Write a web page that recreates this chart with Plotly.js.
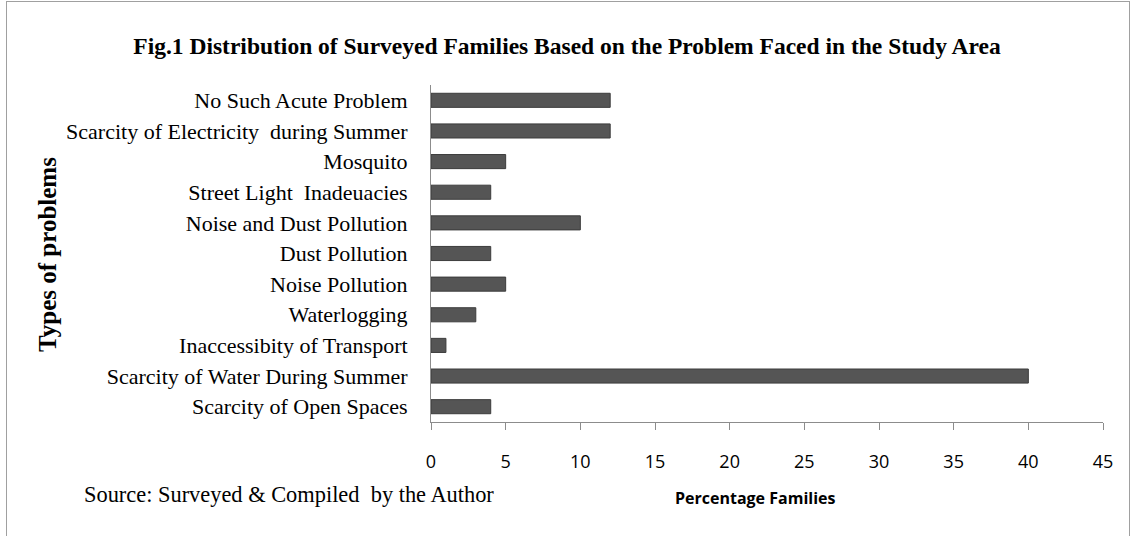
<!DOCTYPE html>
<html>
<head>
<meta charset="utf-8">
<script src="https://cdn.plot.ly/plotly-3.0.1.min.js"></script>
<style>
  html, body { margin: 0; padding: 0; background: #fff; }
  #wrap { position: relative; width: 1134px; height: 536px; }
  #chart { width: 1134px; height: 536px; }
  #frame { position: absolute; left: 6px; top: 1px; width: 1124px; height: 540px;
           border: 1px solid #a0a0a0; pointer-events: none; box-sizing: border-box; }
</style>
</head>
<body>
<div id="wrap">
  <div id="chart"></div>
  <div id="frame"></div>
</div>
<script>
// Data (top to bottom as in the figure)
const problems = [
  "No Such Acute Problem",
  "Scarcity of Electricity  during Summer",
  "Mosquito",
  "Street Light  Inadeuacies",
  "Noise and Dust Pollution",
  "Dust Pollution",
  "Noise Pollution",
  "Waterlogging",
  "Inaccessibity of Transport",
  "Scarcity of Water During Summer",
  "Scarcity of Open Spaces"
];
const percentFamilies = [12, 12, 5, 4, 10, 4, 5, 3, 1, 40, 4];
const xTicks = [0, 5, 10, 15, 20, 25, 30, 35, 40, 45];

const trace = {
  type: 'bar',
  orientation: 'h',
  y: problems,
  x: percentFamilies,
  marker: { color: '#555555', line: { color: '#3c3c3c', width: 1 } },
  hoverinfo: 'x+y'
};

const layout = {
  width: 1134, height: 536,
  margin: { l: 431, r: 31, t: 85, b: 114 },
  paper_bgcolor: '#ffffff', plot_bgcolor: '#ffffff',
  showlegend: false,
  bargap: 0.54,
  title: {
    text: 'Fig.1 Distribution of Surveyed Families Based on the Problem Faced in the Study Area',
    font: { family: 'Liberation Serif, Times New Roman, serif', size: 23.5, color: '#000', weight: 'bold' },
    x: 0.5, xref: 'container', xanchor: 'center',
    y: 1 - 46/536, yref: 'container', yanchor: 'middle'
  },
  xaxis: {
    range: [0, 45],
    tickvals: xTicks,
    ticktext: xTicks.map(String),
    showgrid: false, zeroline: false,
    showline: true, linecolor: '#8c8c8c', linewidth: 1,
    ticks: 'outside', ticklen: 7, tickcolor: '#8c8c8c',
    ticklabelstandoff: 16,
    tickfont: { family: 'Open Sans, Calibri, sans-serif', size: 18, color: '#000' },
    fixedrange: true
  },
  yaxis: {
    type: 'category',
    categoryorder: 'array',
    categoryarray: problems.slice().reverse(),
    autorange: true,
    showgrid: false, zeroline: false,
    showline: true, linecolor: '#8c8c8c', linewidth: 1,
    ticks: '',
    ticklabelstandoff: 18,
    tickfont: { family: 'Liberation Serif, Times New Roman, serif', size: 22, color: '#000' },
    fixedrange: true
  },
  annotations: [
    {
      text: 'Types of problems', textangle: -90,
      xref: 'paper', yref: 'paper',
      x: (47 - 431) / 672, y: (422 - 255) / 337,
      xanchor: 'center', yanchor: 'middle', showarrow: false,
      font: { family: 'Liberation Serif, Times New Roman, serif', size: 25, color: '#000', weight: 'bold' }
    },
    {
      text: 'Percentage Families',
      xref: 'paper', yref: 'paper',
      x: (673 - 431) / 672, y: -(498 - 422) / 337,
      xanchor: 'left', yanchor: 'middle', showarrow: false,
      font: { family: 'Open Sans, Calibri, sans-serif', size: 16, color: '#000', weight: 'bold' }
    },
    {
      text: 'Source: Surveyed &amp; Compiled  by the Author',
      xref: 'paper', yref: 'paper',
      x: (82 - 431) / 672, y: -(494 - 422) / 337,
      xanchor: 'left', yanchor: 'middle', showarrow: false,
      font: { family: 'Liberation Serif, Times New Roman, serif', size: 22.4, color: '#000' }
    }
  ]
};

Plotly.newPlot('chart', [trace], layout, { displayModeBar: false, staticPlot: true });
</script>
</body>
</html>
